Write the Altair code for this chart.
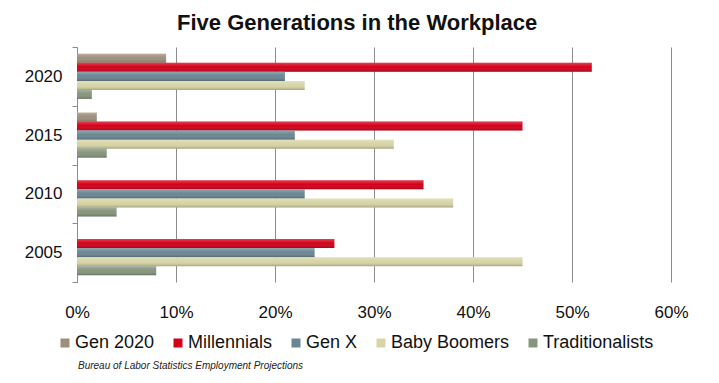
import altair as alt
import pandas as pd

years = ["2020", "2015", "2010", "2005"]
series = ["Gen 2020", "Millennials", "Gen X", "Baby Boomers", "Traditionalists"]
colors = ["#9d8f7c", "#d4001a", "#6b8794", "#d7d5a6", "#86957c"]

gen2020 = [9, 2, 0, 0]
millennials = [52, 45, 35, 26]
genx = [21, 22, 23, 24]
boomers = [23, 32, 38, 45]
traditionalists = [1.5, 3, 4, 8]

x_ticks = [0, 0.1, 0.2, 0.3, 0.4, 0.5, 0.6]

values = {
    "Gen 2020": gen2020,
    "Millennials": millennials,
    "Gen X": genx,
    "Baby Boomers": boomers,
    "Traditionalists": traditionalists,
}
rows = []
for s in series:
    for y, v in zip(years, values[s]):
        rows.append({"year": y, "series": s, "share": v / 100.0})
df = pd.DataFrame(rows)

font = "Liberation Sans"

x_enc = alt.X(
    "share:Q",
    scale=alt.Scale(domain=[0, 0.6], nice=False),
    axis=alt.Axis(
        values=x_ticks, format=".0%", title=None, grid=True, gridColor="#8c8c8c",
        gridWidth=1, ticks=False, domain=False, labelFontSize=17, labelFont=font,
        labelColor="#111", labelPadding=22, labelFlush=False,
    ),
)
y_enc = alt.Y(
    "year:N", sort=years,
    scale=alt.Scale(paddingInner=0, paddingOuter=0),
    axis=alt.Axis(
        title=None, tickBand="extent", tickSize=5, tickColor="#8c8c8c",
        domainColor="#8c8c8c", labelFontSize=17, labelFont=font, labelColor="#111",
        labelPadding=10,
    ),
)
yoff = alt.YOffset("series:N", sort=series,
                   scale=alt.Scale(paddingInner=0, paddingOuter=0.76))

bars = alt.Chart(df).mark_bar().encode(
    x=x_enc, y=y_enc, yOffset=yoff,
    color=alt.Color(
        "series:N", sort=series,
        scale=alt.Scale(domain=series, range=colors),
        legend=alt.Legend(
            title=None, orient="none", legendX=-21, legendY=287, direction="horizontal",
            padding=0, symbolType="square", symbolSize=81, symbolStrokeWidth=0,
            labelFontSize=18, labelFont=font, labelColor="#111", columnPadding=14,
            labelOffset=1,
        ),
    ),
)

shade = alt.Chart(df).mark_bar(
    color=alt.Gradient(
        gradient="linear", x1=0, y1=0, x2=0, y2=1,
        stops=[
            alt.GradientStop(offset=0, color="rgba(255,255,255,0.25)"),
            alt.GradientStop(offset=0.45, color="rgba(255,255,255,0)"),
            alt.GradientStop(offset=1, color="rgba(0,0,0,0.22)"),
        ],
    )
).encode(x="share:Q", y=alt.Y("year:N", sort=years), yOffset=alt.YOffset("series:N", sort=series))

note = alt.Chart(pd.DataFrame({"t": ["Bureau of Labor Statistics Employment Projections"]})).mark_text(
    align="left", baseline="middle", fontSize=10, fontStyle="italic", font=font, color="#222"
).encode(x=alt.value(1), y=alt.value(319), text="t:N")

chart = alt.layer(bars, shade, note).properties(
    width=594, height=235,
    autosize=alt.AutoSizeParams(type="none"),
    padding={"left": 69, "top": 39, "right": 30, "bottom": 90},
    title=alt.Title(
        "Five Generations in the Workplace", anchor="start", frame="group", dx=100,
        fontSize=22, font=font, fontWeight="bold", color="#111", offset=3,
    ),
).configure_view(stroke=None)

chart.save("out.html", embed_options={"renderer": "svg", "actions": False})
